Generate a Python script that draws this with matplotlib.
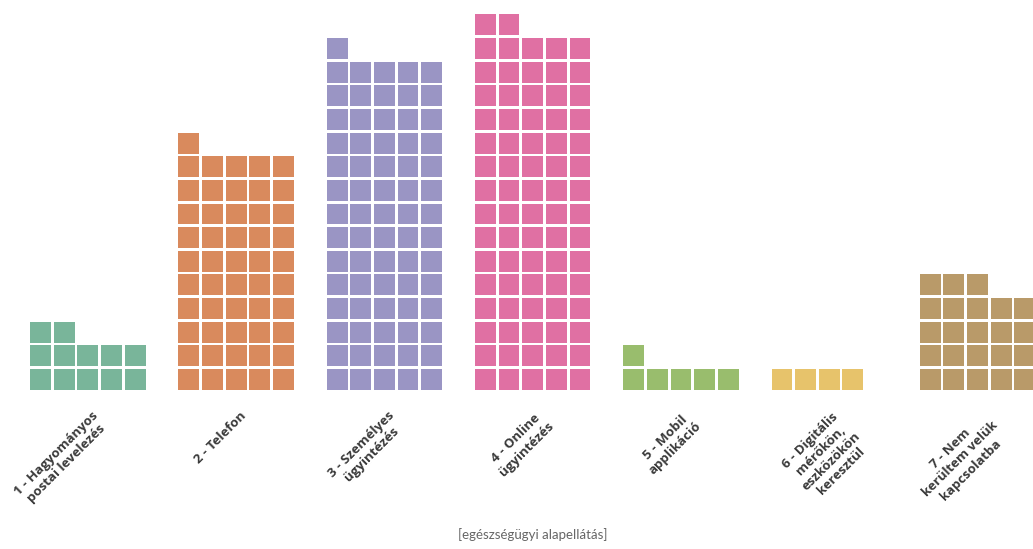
import matplotlib
matplotlib.use("Agg")
import matplotlib.pyplot as plt

categories = [
    "1 - Hagyományos\npostai levelezés",
    "2 - Telefon",
    "3 - Személyes\nügyintézés",
    "4 - Online\nügyintézés",
    "5 - Mobil\napplikáció",
    "6 - Digitális\nmérőkön,\neszközökön\nkeresztül",
    "7 - Nem\nkerültem velük\nkapcsolatba",
]
counts = [12, 51, 71, 77, 6, 4, 23]
colors = ["#79B59A", "#D98A5D", "#9A95C4", "#E070A3", "#99BD6D", "#E7C36B", "#B99A69"]
axis_title = "[egészségügyi alapellátás]"

W, H = 1033, 549
PITCH = 23.65         # px per unit square
N_COLS = 5
GROUP_STEP = 148.3 / PITCH
X_OFF = 30 / PITCH
BASE_PX = 390
SQ = 0.885

fig = plt.figure(figsize=(W / 100, H / 100), dpi=100)
ax = fig.add_axes([0, 0, 1, 1])
ax.set_xlim(-X_OFF, (W - 30) / PITCH)
ax.set_ylim(-(H - BASE_PX) / PITCH, BASE_PX / PITCH)
ax.axis("off")

for gi, (n, col) in enumerate(zip(counts, colors)):
    left = gi * GROUP_STEP
    xs = [left + (k % N_COLS) for k in range(n)]
    ys = [k // N_COLS for k in range(n)]
    ax.bar(xs, SQ, width=SQ, bottom=ys, align="edge", color=col,
           edgecolor="none", linewidth=0)
    cx = left + N_COLS / 2
    ax.text(cx + 0.1, -0.8, categories[gi], rotation=45, rotation_mode="anchor",
            ha="right", va="top", multialignment="center",
            fontsize=9.5, fontweight="bold", color="#3a3a3a",
            family=["Open Sans", "DejaVu Sans"], linespacing=1.15)

fig.text(533 / W, 1 - 535 / H, axis_title, ha="center", va="center",
         fontsize=9.5, color="#666666", family=["Lato", "DejaVu Sans"])

fig.savefig("out.png", dpi=100)
